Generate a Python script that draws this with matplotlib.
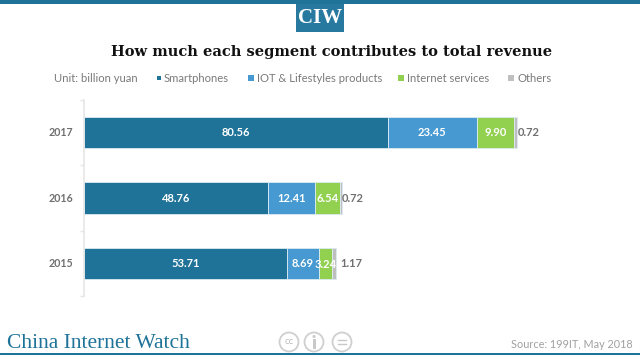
import numpy as np
import matplotlib
matplotlib.use("Agg")
import matplotlib.pyplot as plt
from matplotlib.patches import Rectangle, Ellipse
from matplotlib.lines import Line2D

years = ["2015", "2016", "2017"]
smartphones = [53.71, 48.76, 80.56]
iot = [8.69, 12.41, 23.45]
internet = [3.24, 6.54, 9.90]
others = [1.17, 0.72, 0.72]
others_labels = ["1.17", "0.72", "0.72"]

names = ["Smartphones", "IOT & Lifestyles products", "Internet services", "Others"]
colors = ["#1F7399", "#4699D1", "#92D050", "#BFBFBF"]
legend_text_x = [164, 257, 407, 517]
legend_sq_x = [157, 248, 398, 508]
legend_sq = [4, 6, 6, 6]

W, H = 640, 355
plt.rcParams["font.family"] = ["Lato", "DejaVu Sans"]
fig = plt.figure(figsize=(W/100, H/100), dpi=100)

def fx(x):
    return x/W

def fy(y):
    return 1-y/H

def box(x, y, w, h, c):
    fig.add_artist(Rectangle((fx(x), fy(y+h)), w/W, h/H, transform=fig.transFigure, color=c, lw=0))

def ring(x, y, r):
    fig.add_artist(Ellipse((fx(x), fy(y)), 2*r/W, 2*r/H, transform=fig.transFigure,
                           fc="white", ec="#CFCFCF", lw=1.3))

# plot area, in pixels of the 640x355 picture
ax = fig.add_axes([84/W, 1-296/H, 516/W, 196/H])
y = np.arange(3)
left = np.zeros(3)
series = [smartphones, iot, internet, others]
for vals, c in zip(series, colors):
    ax.barh(y, vals, left=left, height=0.48, color=c, edgecolor="#DCEBF3", linewidth=0.6)
    left = left+np.array(vals)

ax.set_xlim(0, 516/3.774)
ax.set_ylim(-0.5, 2.5)
ax.xaxis.set_visible(False)
ax.set_yticks([-0.5, 0.5, 1.5, 2.5])
ax.set_yticklabels([])
ax.tick_params(axis="y", length=3, color="#E6E6E6", width=1)
for s in ["top", "right", "bottom"]:
    ax.spines[s].set_visible(False)
ax.spines["left"].set_color("#E6E6E6")
ax.spines["left"].set_linewidth(1.2)

label_off = [3, -0.5, 1]
for i, yr in enumerate(years):
    ax.annotate(yr, (0, i), xytext=(-8, 0), textcoords="offset points", ha="right", va="center",
                fontsize=7.7, fontweight="bold", color="#707070")
    ax.text(smartphones[i]/2, i, f"{smartphones[i]:.2f}", ha="center", va="center",
            fontsize=8, fontweight="bold", color="white")
    ax.text(smartphones[i]+iot[i]/2, i, f"{iot[i]:.2f}", ha="center", va="center",
            fontsize=8, fontweight="bold", color="white")
    ax.text(smartphones[i]+iot[i]+internet[i]/2, i-(0.02 if i == 0 else 0), f"{internet[i]:.2f}", ha="center", va="center",
            fontsize=8, fontweight="bold", color="white")
    total = smartphones[i]+iot[i]+internet[i]+others[i]
    ax.annotate(others_labels[i], (total, i), xytext=(label_off[i], 0), textcoords="offset points",
                ha="left", va="center", fontsize=8, fontweight="bold", color="#707070")

# header band and logo
box(0, 0, W, 4, "#1F7399")
box(296, 4, 48, 28, "#2779A0")
fig.text(fx(320), fy(18), "CIW", ha="center", va="center", color="white", fontsize=15, fontweight="bold",
         family="Liberation Serif")

fig.text(fx(332), fy(52), "How much each segment contributes to total revenue", ha="center", va="center",
         fontsize=10.5, fontweight="bold", family="DejaVu Serif", color="#111111")

# legend row
fig.text(fx(54), fy(78), "Unit: billion yuan", ha="left", va="center", fontsize=8.1, color="#7A7A7A")
for n, c, tx, sx, s in zip(names, colors, legend_text_x, legend_sq_x, legend_sq):
    box(sx, 78-s/2, s, s, c)
    fig.text(fx(tx), fy(78), n, ha="left", va="center", fontsize=8.1, color="#7A7A7A")

# footer
fig.text(fx(7), fy(343), "China Internet Watch", ha="left", va="center", fontsize=15.5,
         family="Liberation Serif", color="#1F7399")
fig.text(fx(633), fy(344), "Source: 199IT, May 2018", ha="right", va="center", fontsize=7.8, color="#A0A0A0")
box(0, 353, W, 2, "#1F7399")

# cc badges
ring(289, 342, 9.5)
fig.text(fx(289), fy(342), "cc", ha="center", va="center", fontsize=7, color="#BDBDBD")
ring(314, 342, 9.5)
fig.add_artist(Ellipse((fx(314), fy(336.5)), 3/W, 3/H, transform=fig.transFigure, color="#C8C8C8", lw=0))
box(312.5, 339, 3, 10, "#C8C8C8")
ring(342, 342, 9.5)
for yy in [340, 344]:
    fig.add_artist(Line2D([fx(338), fx(346)], [fy(yy), fy(yy)], transform=fig.transFigure, color="#C8C8C8", lw=1))

fig.savefig("out.png", dpi=100)
